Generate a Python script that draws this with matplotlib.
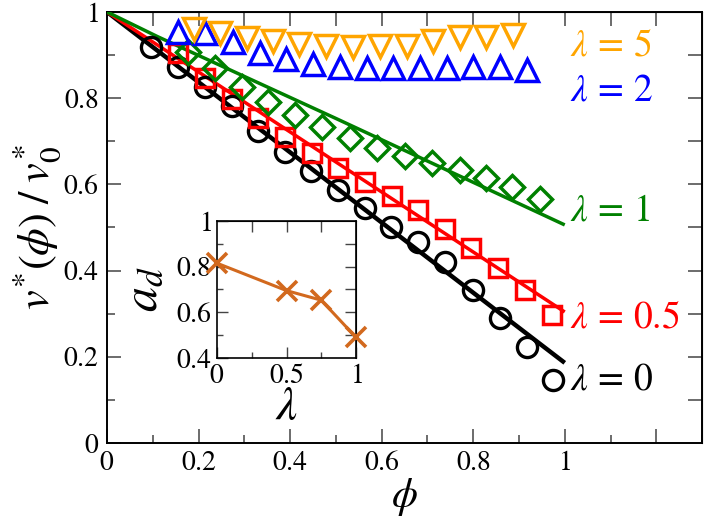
import matplotlib
matplotlib.use("Agg")
import matplotlib.pyplot as plt
from matplotlib.ticker import MultipleLocator, FixedLocator, NullFormatter

plt.rcParams['font.family'] = ['STIXGeneral', 'Liberation Serif', 'DejaVu Serif']
plt.rcParams['mathtext.fontset'] = 'stix'

# ---- data ----
phi_l0 = [0.097, 0.155, 0.214, 0.272, 0.330, 0.388, 0.446, 0.505, 0.563, 0.621, 0.680, 0.738, 0.800, 0.858, 0.917, 0.974]
v_l0 = [0.918, 0.872, 0.826, 0.782, 0.724, 0.676, 0.630, 0.588, 0.545, 0.502, 0.467, 0.420, 0.355, 0.290, 0.223, 0.146]

phi_l05 = [0.155, 0.214, 0.272, 0.330, 0.389, 0.447, 0.505, 0.563, 0.622, 0.680, 0.738, 0.796, 0.854, 0.913, 0.972]
v_l05 = [0.905, 0.846, 0.798, 0.754, 0.710, 0.673, 0.639, 0.605, 0.573, 0.540, 0.497, 0.452, 0.406, 0.355, 0.297]

phi_l1 = [0.177, 0.236, 0.295, 0.352, 0.410, 0.469, 0.530, 0.590, 0.650, 0.709, 0.771, 0.829, 0.885, 0.945]
v_l1 = [0.908, 0.870, 0.826, 0.792, 0.760, 0.733, 0.707, 0.685, 0.667, 0.650, 0.633, 0.615, 0.595, 0.566]

phi_l2 = [0.155, 0.214, 0.275, 0.334, 0.392, 0.450, 0.509, 0.567, 0.625, 0.683, 0.742, 0.800, 0.858, 0.917]
v_l2 = [0.953, 0.951, 0.931, 0.905, 0.890, 0.880, 0.872, 0.869, 0.870, 0.870, 0.870, 0.872, 0.872, 0.865]

phi_l5 = [0.190, 0.247, 0.305, 0.362, 0.420, 0.478, 0.538, 0.596, 0.655, 0.712, 0.771, 0.829, 0.887]
v_l5 = [0.960, 0.952, 0.940, 0.932, 0.926, 0.922, 0.918, 0.920, 0.921, 0.933, 0.943, 0.943, 0.947]

# theory lines
phi_th0 = [0.0, 1.0]
v_th0 = [1.0, 0.186]
phi_th05 = [0.0, 1.0]
v_th05 = [1.0, 0.304]
phi_th1 = [0.0, 0.11, 0.5, 1.0]
v_th1 = [1.0, 0.943, 0.753, 0.506]

# inset
lam_inset = [0.0, 0.5, 0.75, 1.0]
ad_inset = [0.815, 0.695, 0.653, 0.49]

labels = [r'$\lambda\,=\,5$', r'$\lambda\,=\,2$', r'$\lambda\,=\,1$', r'$\lambda\,=\,0.5$', r'$\lambda\,=\,0$']
label_y = [0.921, 0.817, 0.538, 0.290, 0.146]
label_colors = ['#FFA500', '#0000FF', '#008000', '#FF0000', '#000000']

xticks_main = [0, 0.2, 0.4, 0.6, 0.8, 1.0, 1.2]
xticklabels_main = ['0', '0.2', '0.4', '0.6', '0.8', '1', '']
yticks_main = [0, 0.2, 0.4, 0.6, 0.8, 1.0]
yticklabels_main = ['0', '0.2', '0.4', '0.6', '0.8', '1']
xticks_inset = [0, 0.5, 1]
xticklabels_inset = ['0', '0.5', '1']
yticks_inset = [0.4, 0.6, 0.8, 1.0]
yticklabels_inset = ['0.4', '0.6', '0.8', '1']


def m(s):
    return r'$\mathrm{' + s + '}$' if s else ''


# ---- figure ----
fig = plt.figure(figsize=(7.06, 5.21), dpi=100)
ax = fig.add_axes([0.1516, 0.1497, 0.8428, 0.8273])

ax.plot(phi_th0, v_th0, color='black', lw=3.2, solid_capstyle='butt', zorder=3)
ax.plot(phi_th05, v_th05, color='#FF0000', lw=2.5, solid_capstyle='butt', zorder=3)
ax.plot(phi_th1, v_th1, color='#008000', lw=2.5, solid_capstyle='butt', zorder=3)

ax.plot(phi_l0, v_l0, 'o', ms=14.5, mfc='none', mec='black', mew=2.4, zorder=4)
ax.plot(phi_l05, v_l05, 's', ms=13.5, mfc='none', mec='#FF0000', mew=2.5, zorder=4)
ax.plot(phi_l1, v_l1, 'D', ms=12, mfc='none', mec='#008000', mew=2.5, zorder=4)
ax.plot(phi_l2, v_l2, '^', ms=15.5, mfc='none', mec='#0000FF', mew=2.5, zorder=4)
ax.plot(phi_l5, v_l5, 'v', ms=15.5, mfc='none', mec='#FFA500', mew=2.5, zorder=4)

for txt, yy, cc in zip(labels, label_y, label_colors):
    ax.text(1.012, yy, txt, color=cc, fontsize=27, ha='left', va='center')

ax.set_xlim(0, 1.3)
ax.set_ylim(0, 1.0)
ax.set_xticks(xticks_main)
ax.set_xticklabels([m(s) for s in xticklabels_main])
ax.set_yticks(yticks_main)
ax.set_yticklabels([m(s) for s in yticklabels_main])
ax.xaxis.set_minor_locator(MultipleLocator(0.1))
ax.yaxis.set_minor_locator(MultipleLocator(0.1))
tick_col = '#444444'
ax.tick_params(which='major', direction='in', length=10, width=1.1, color=tick_col,
               labelsize=20, pad=6, top=False, right=False)
ax.tick_params(which='minor', direction='in', length=5.5, width=1.1, color=tick_col,
               top=False, right=False)
for sp in ax.spines.values():
    sp.set_linewidth(1.4)

# top / right ticks all equal length
allx = [i * 0.1 for i in range(1, 13)]
ally = [i * 0.1 for i in range(1, 10)]
secx = ax.secondary_xaxis('top')
secx.xaxis.set_major_locator(FixedLocator(allx))
secx.xaxis.set_major_formatter(NullFormatter())
secx.tick_params(direction='in', length=10, width=1.1, color=tick_col)
secy = ax.secondary_yaxis('right')
secy.yaxis.set_major_locator(FixedLocator(ally))
secy.yaxis.set_major_formatter(NullFormatter())
secy.tick_params(direction='in', length=10, width=1.1, color=tick_col)

ax.set_xlabel(r'$\phi$', fontsize=30, labelpad=0)
ax.set_ylabel(r'$v^{*}(\phi)\;/\;v_0^{*}$', fontsize=32, labelpad=0)

# ---- inset ----
ins = fig.add_axes([0.3074, 0.3129, 0.1969, 0.263])
ins.plot(lam_inset, ad_inset, color='#D2691E', lw=2.2, marker='x', ms=14, mew=2.6, zorder=3,
         clip_on=False)
ins.set_xlim(0, 1)
ins.set_ylim(0.4, 1.0)
ins.set_xticks(xticks_inset)
ins.set_xticklabels([m(s) for s in xticklabels_inset])
ins.set_yticks(yticks_inset)
ins.set_yticklabels([m(s) for s in yticklabels_inset])
ins.xaxis.set_minor_locator(MultipleLocator(0.25))
ins.yaxis.set_minor_locator(MultipleLocator(0.1))
ins.tick_params(which='major', direction='in', length=8, width=1.0, color=tick_col,
                labelsize=20, pad=4)
ins.tick_params(which='minor', direction='in', length=4.5, width=1.0, color=tick_col)
sx = ins.secondary_xaxis('top')
sx.xaxis.set_major_locator(FixedLocator([0.25, 0.5, 0.75]))
sx.xaxis.set_major_formatter(NullFormatter())
sx.tick_params(direction='in', length=8, width=1.0, color=tick_col)
sy = ins.secondary_yaxis('right')
sy.yaxis.set_major_locator(FixedLocator([0.5, 0.6, 0.7, 0.8, 0.9]))
sy.yaxis.set_major_formatter(NullFormatter())
sy.tick_params(direction='in', length=8, width=1.0, color=tick_col)
for sp in ins.spines.values():
    sp.set_linewidth(1.2)
ins.set_xlabel(r'$\lambda$', fontsize=34, labelpad=-2)
ins.set_ylabel(r'$a_d$', fontsize=36, labelpad=6)

fig.savefig('out.png', dpi=100)
